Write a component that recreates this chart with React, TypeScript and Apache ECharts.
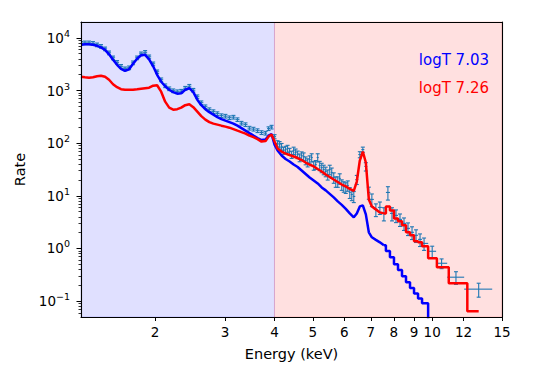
import React, { useEffect, useRef } from "react";
import * as echarts from "echarts";

// Model grid: bin centre energies (keV)
const energy = [
  1.300, 1.330, 1.362, 1.394, 1.427, 1.460, 1.495, 1.530, 1.566, 1.603,
  1.640, 1.679, 1.719, 1.759, 1.801, 1.843, 1.887, 1.931, 1.977, 2.023,
  2.071, 2.120, 2.170, 2.221, 2.274, 2.327, 2.382, 2.439, 2.496, 2.555,
  2.615, 2.677, 2.740, 2.805, 2.871, 2.939, 3.008, 3.079, 3.151, 3.226,
  3.302, 3.380, 3.459, 3.541, 3.625, 3.710, 3.798, 3.865, 3.933, 4.002,
  4.073, 4.169, 4.267, 4.368, 4.471, 4.576, 4.684, 4.794, 4.907, 5.024,
  5.142, 5.263, 5.387, 5.514, 5.644, 5.777, 5.913, 6.053, 6.195, 6.341,
  6.453, 6.567, 6.683, 6.801, 6.920, 7.043, 7.209, 7.379, 7.553, 7.731,
  7.916, 8.103, 8.294, 8.489, 8.689, 8.894, 9.104, 9.318, 9.538,
  10.0, 10.56, 11.48, 13.1,
];

// Model, logT 7.03 (blue)
const modelLogT703 = [
  7370, 7530, 7530, 7370, 7055, 6610, 5925, 4870, 3831, 3081,
  2588, 2371, 2532, 3218, 4002, 4664, 4765, 3915, 2885, 1992,
  1468, 1206, 1036, 929, 870, 889, 1036, 1106, 929, 670,
  527, 442, 388, 348, 312, 286, 268, 251, 235, 215,
  193, 173, 155, 139, 125, 114.5, 117, 139, 149, 94,
  72.4, 58.3, 50.0, 44.8, 39.3, 35.3, 30.3, 26.0, 22.3, 19.6,
  17.2, 14.4, 12.7, 10.9, 9.33, 7.83, 6.73, 5.65, 4.64, 3.90,
  4.64, 6.30, 6.58, 4.44, 2.03, 1.63, 1.46, 1.31, 1.15, 0.90,
  0.68, 0.50, 0.39, 0.297, 0.229, 0.178, 0.140, 0.112, 0.0917,
  0.04, 0.025, 0.012, 0.004,
];

// Model, logT 7.26 (red)
const modelLogT726 = [
  1825, 1786, 1747, 1786, 1865, 1906, 1825, 1601, 1316, 1155,
  1058, 1036, 1036, 1036, 1058, 1082, 1106, 1130, 1233, 1260,
  949, 614, 472, 433, 442, 472, 527, 550, 483, 397,
  326, 280, 251, 235, 225, 215, 206, 197, 185, 173,
  162, 152, 139, 130.5, 119.6, 107.2, 109.6, 133.4, 145.5, 107.2,
  79.0, 69.3, 63.5, 59.5, 55.8, 52.2, 47.9, 42.9, 39.3, 36.1,
  32.3, 29.0, 25.4, 22.8, 20.4, 18.3, 16.4, 15.1, 13.5, 12.4,
  18.7, 46.8, 69.3, 42.9, 8.55, 6.30, 5.53, 4.85, 4.64, 6.30,
  5.29, 3.73, 3.28, 2.75, 2.03, 1.78, 1.37, 1.31, 1.10,
  0.652, 0.440, 0.219, 0.0646,
];

// Observed spectrum: bin centres (keV), rate and error
const obsEnergy = [
  1.300, 1.330, 1.362, 1.394, 1.427, 1.460, 1.495, 1.530, 1.566, 1.603,
  1.640, 1.679, 1.719, 1.759, 1.801, 1.843, 1.887, 1.931, 1.977, 2.023,
  2.071, 2.120, 2.170, 2.221, 2.274, 2.327, 2.382, 2.439, 2.496, 2.555,
  2.615, 2.677, 2.740, 2.805, 2.871, 2.939, 3.008, 3.079, 3.151, 3.226,
  3.302, 3.380, 3.459, 3.541, 3.625, 3.710, 3.798, 3.865, 3.933, 4.002,
  4.073, 4.121, 4.169, 4.217, 4.267, 4.317, 4.368, 4.419, 4.471, 4.523,
  4.576, 4.630, 4.684, 4.739, 4.794, 4.851, 4.907, 4.965, 5.024, 5.082,
  5.142, 5.202, 5.263, 5.325, 5.387, 5.450, 5.514, 5.578, 5.644, 5.710,
  5.777, 5.844, 5.913, 5.982, 6.053, 6.123, 6.195, 6.268, 6.341,
  6.453, 6.567, 6.683, 6.801, 6.920, 7.043, 7.209, 7.379, 7.553, 7.731,
  7.916, 8.103, 8.294, 8.489, 8.689, 8.894, 9.104, 9.318, 9.538,
  10.0, 10.56, 11.48, 13.1,
];

const observedRate = [
  7867, 8040, 8040, 7867, 7370, 6902, 6189, 5198, 4180, 3436,
  2885, 2588, 2703, 3361, 4180, 4978, 5314, 4367, 3218, 2270,
  1601, 1233, 1082, 991, 949, 970, 1106, 1206, 1013, 763,
  587, 493, 433, 397, 364, 333, 326, 305, 312, 280,
  240, 225, 193, 185, 173, 159, 155, 189, 202, 133,
  98.3, 94.1, 86.2, 72.4, 75.6, 79.0, 69.3, 60.8, 72.4, 66.4,
  60.8, 53.4, 58.3, 55.8, 46.8, 42.9, 48.9, 53.4, 37.6, 39.3,
  53.4, 37.6, 34.5, 31.6, 29.0, 25.4, 31.6, 27.7, 22.3, 18.7,
  18.7, 21.4, 16.4, 15.1, 14.4, 15.7, 11.6, 10.6, 9.74,
  20.4, 60.8, 75.6, 36.1, 11.6, 8.55, 5.53, 6.03, 4.64, 11.6,
  4.64, 4.25, 3.57, 3.00, 2.41, 2.03, 1.78, 1.49, 1.25,
  0.885, 0.524, 0.285, 0.169,
];

const observedErr = [
  620, 640, 640, 620, 590, 550, 490, 420, 330, 270,
  230, 205, 215, 270, 330, 400, 420, 350, 255, 180,
  128, 98, 86, 79, 76, 78, 88, 96, 81, 61,
  47, 39, 35, 32, 29, 27, 26, 24, 25, 22,
  19, 18, 15.5, 15, 14, 13, 12.5, 15, 16, 12,
  13, 13, 12.5, 11, 11.5, 12, 10.5, 9.5, 11.5, 11,
  10, 9, 10, 9.5, 8, 7.5, 8.5, 9.5, 7, 7.5,
  9.5, 7.5, 7, 6.5, 6, 5.5, 6.5, 6, 5, 4.2,
  4.2, 4.8, 3.7, 3.4, 3.3, 3.5, 2.7, 2.5, 2.3,
  4, 8, 8.5, 6.5, 3, 2.3, 1.5, 1.6, 1.3, 3.3,
  1.3, 1.15, 0.95, 0.8, 0.65, 0.55, 0.48, 0.4, 0.33,
  0.22, 0.11, 0.077, 0.05,
];

// Edges of the last (wide) energy bins
const wideBinEdges = [9.77, 10.23, 10.91, 12.04, 14.17];

const xTickValues = [2, 3, 4, 5, 6, 7, 8, 9, 10, 12, 15];
const yMajorTicks = [0.1, 1, 10, 100, 1000, 10000];
const yMinorTicks = [
  0.06, 0.07, 0.08, 0.09,
  0.2, 0.3, 0.4, 0.5, 0.6, 0.7, 0.8, 0.9,
  2, 3, 4, 5, 6, 7, 8, 9,
  20, 30, 40, 50, 60, 70, 80, 90,
  200, 300, 400, 500, 600, 700, 800, 900,
  2000, 3000, 4000, 5000, 6000, 7000, 8000, 9000,
];

const xRange = [1.3, 15];
const yRange = [0.05, 20000];
const splitEnergy = 4;
const stepFromEnergy = 7.55;

const legendItems = [
  { label: "logT 7.03", color: "#0000ff" },
  { label: "logT 7.26", color: "#ff0000" },
];

const FONT = "DejaVu Sans";

export default function App() {
  const ref = useRef<HTMLDivElement>(null);

  useEffect(() => {
    if (!ref.current) return;
    const chart = echarts.init(ref.current, null, { renderer: "svg" });

    const n = obsEnergy.length;
    const wideStart = n - (wideBinEdges.length - 1);
    const binLo = obsEnergy.map((e, i) => {
      if (i >= wideStart) return wideBinEdges[i - wideStart];
      return i === 0 ? e - (obsEnergy[1] - e) / 2 : (obsEnergy[i - 1] + e) / 2;
    });
    const binHi = obsEnergy.map((e, i) => {
      if (i >= wideStart) return wideBinEdges[i - wideStart + 1];
      if (i === wideStart - 1) return wideBinEdges[0];
      return (e + obsEnergy[i + 1]) / 2;
    });

    const splitIdx = energy.findIndex((e) => e >= stepFromEnergy);
    const pairs = (arr: number[]) => energy.map((e, i) => [e, arr[i]]);
    const blue = pairs(modelLogT703);
    const red = pairs(modelLogT726);

    const obsData = obsEnergy.map((e, i) => [e, observedRate[i], binLo[i], binHi[i], observedErr[i]]);

    const lineSeries = (data: number[][], color: string, step: boolean, z: number) => ({
      type: "line",
      data,
      step: step ? "middle" : false,
      showSymbol: false,
      symbol: "none",
      clip: true,
      z,
      lineStyle: { color, width: 2.5 },
      itemStyle: { color },
      emphasis: { disabled: true },
    });

    const supFormatter = (v: number) => {
      const e = Math.round(Math.log10(v));
      const s = e < 0 ? "\u2212" + String(-e) : String(e);
      return `{b|10}{s|${s}}`;
    };

    chart.setOption({
      animation: false,
      backgroundColor: "#ffffff",
      textStyle: { fontFamily: FONT },
      grid: { left: 81, right: 38, top: 22, bottom: 61, containLabel: false },
      xAxis: [
        {
          type: "log",
          logBase: 10,
          min: xRange[0],
          max: xRange[1],
          z: 10,
          name: "Energy (keV)",
          nameLocation: "middle",
          nameGap: 29,
          nameTextStyle: { fontFamily: FONT, fontSize: 14.5, color: "#000" },
          axisLine: { show: true, lineStyle: { color: "#000", width: 1.1 } },
          axisTick: { show: true, customValues: xTickValues, length: 4, inside: false, lineStyle: { color: "#000", width: 1 } },
          minorTick: { show: false },
          splitLine: { show: false },
          axisLabel: {
            customValues: xTickValues,
            formatter: (v: number) => String(v),
            fontFamily: FONT,
            fontSize: 13.5,
            color: "#000",
            margin: 8,
          },
        },
        {
          type: "log",
          min: xRange[0],
          max: xRange[1],
          position: "top",
          z: 10,
          axisLine: { show: true, onZero: false, lineStyle: { color: "#000", width: 1.1 } },
          axisTick: { show: false },
          axisLabel: { show: false },
          splitLine: { show: false },
        },
      ],
      yAxis: [
        {
          type: "log",
          logBase: 10,
          min: yRange[0],
          max: yRange[1],
          z: 10,
          name: "Rate",
          nameLocation: "middle",
          nameGap: 52,
          nameTextStyle: { fontFamily: FONT, fontSize: 14.5, color: "#000" },
          axisLine: { show: true, lineStyle: { color: "#000", width: 1.1 } },
          axisTick: { show: true, customValues: yMajorTicks, length: 4.5, lineStyle: { color: "#000", width: 1 } },
          splitLine: { show: false },
          axisLabel: {
            customValues: yMajorTicks,
            formatter: supFormatter,
            margin: 11,
            rich: {
              b: { fontFamily: FONT, fontSize: 13.5, color: "#000" },
              s: { fontFamily: FONT, fontSize: 9.5, color: "#000", padding: [0, 0, 9, 0] },
            },
          },
        },
        {
          type: "log",
          logBase: 10,
          min: yRange[0],
          max: yRange[1],
          position: "left",
          offset: 0,
          z: 10,
          axisLine: { show: false },
          axisTick: { show: true, customValues: yMinorTicks, length: 2.5, lineStyle: { color: "#000", width: 0.8 } },
          axisLabel: { show: false },
          splitLine: { show: false },
        },
        {
          type: "log",
          min: yRange[0],
          max: yRange[1],
          position: "right",
          z: 10,
          axisLine: { show: true, onZero: false, lineStyle: { color: "#000", width: 1.1 } },
          axisTick: { show: false },
          axisLabel: { show: false },
          splitLine: { show: false },
        },
      ],
      graphic: legendItems.map((it, i) => ({
        type: "text",
        right: 51,
        top: 52 + i * 28,
        style: { text: it.label, fill: it.color, font: `15px "${FONT}"` },
        z: 20,
      })),
      series: [
        {
          type: "line",
          data: [],
          silent: true,
          z: 0,
          markArea: {
            silent: true,
            data: [
              [
                { xAxis: xRange[0], itemStyle: { color: "rgba(0,0,255,0.12)", borderColor: "rgba(0,0,255,0.15)", borderWidth: 1 } },
                { xAxis: splitEnergy },
              ],
              [
                { xAxis: splitEnergy, itemStyle: { color: "rgba(255,0,0,0.12)", borderColor: "rgba(255,0,0,0.15)", borderWidth: 1 } },
                { xAxis: xRange[1] },
              ],
            ],
          },
        },
        {
          type: "custom",
          z: 1,
          clip: true,
          data: obsData,
          encode: { x: 0, y: 1 },
          renderItem: (_params: any, api: any) => {
            const e = api.value(0);
            const v = api.value(1);
            const lo = api.value(2);
            const hi = api.value(3);
            const err = api.value(4);
            const c = api.coord([e, v]);
            const l = api.coord([lo, v]);
            const r = api.coord([hi, v]);
            const t = api.coord([e, v + err]);
            const b = api.coord([e, v - err]);
            const cap = 2;
            const style = { stroke: "#1f77b4", lineWidth: 1.1 };
            return {
              type: "group",
              children: [
                { type: "line", shape: { x1: l[0], y1: c[1], x2: r[0], y2: c[1] }, style },
                { type: "line", shape: { x1: c[0], y1: t[1], x2: c[0], y2: b[1] }, style },
                { type: "line", shape: { x1: c[0] - cap, y1: t[1], x2: c[0] + cap, y2: t[1] }, style },
                { type: "line", shape: { x1: c[0] - cap, y1: b[1], x2: c[0] + cap, y2: b[1] }, style },
              ],
            };
          },
        },
        lineSeries(blue.slice(0, splitIdx + 1), "#0000ff", false, 3),
        lineSeries(blue.slice(splitIdx), "#0000ff", true, 3),
        lineSeries(red.slice(0, splitIdx + 1), "#ff0000", false, 4),
        lineSeries(red.slice(splitIdx), "#ff0000", true, 4),
      ],
    });

    return () => chart.dispose();
  }, []);

  return <div ref={ref} style={{ position: "absolute", left: 0, top: 0, width: 540, height: 378 }} />;
}
